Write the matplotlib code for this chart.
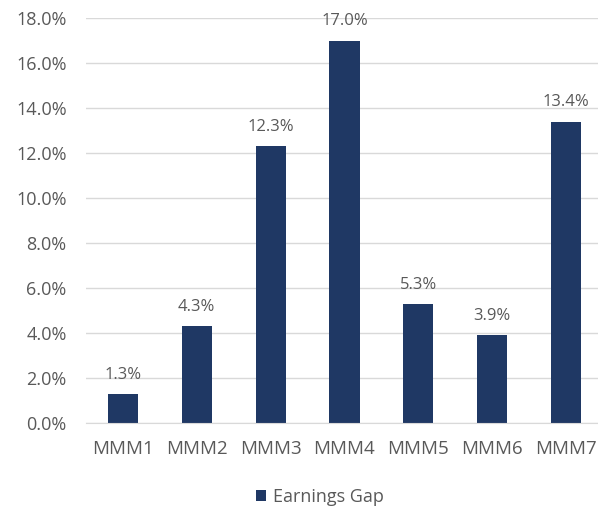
import matplotlib.pyplot as plt
from matplotlib.ticker import PercentFormatter

# Earnings gap per site
categories = ['MMM1', 'MMM2', 'MMM3', 'MMM4', 'MMM5', 'MMM6', 'MMM7']
earnings_gap = [1.3, 4.3, 12.3, 17.0, 5.3, 3.9, 13.4]
y_ticks = [0, 2, 4, 6, 8, 10, 12, 14, 16, 18]

bar_color = '#1F3864'
text_color = '#595959'

plt.rcParams['font.family'] = ['Open Sans', 'DejaVu Sans']

fig = plt.figure(figsize=(5.98, 5.07), dpi=100)
ax = fig.add_axes([86 / 598, 1 - 423 / 507, 517 / 598, 405 / 507])

bars = ax.bar(categories, earnings_gap, width=0.41, color=bar_color,
              label='Earnings Gap', zorder=3)
for rect, val in zip(bars, earnings_gap):
    ax.annotate(f'{val:.1f}%', (rect.get_x() + rect.get_width() / 2, val),
                xytext=(0, 8), textcoords='offset points', ha='center',
                va='bottom', fontsize=12, color=text_color)

ax.set_xlim(-0.5, len(categories) - 0.5)
ax.set_ylim(0, 18)
ax.set_yticks(y_ticks)
ax.yaxis.set_major_formatter(PercentFormatter(decimals=1))
ax.grid(axis='y', color='#D9D9D9', linewidth=1, zorder=0)
for side in ['top', 'right', 'left']:
    ax.spines[side].set_visible(False)
ax.spines['bottom'].set_color('#D9D9D9')
ax.spines['bottom'].set_zorder(4)
ax.tick_params(axis='y', length=0, pad=14, labelsize=13, labelcolor=text_color)
ax.tick_params(axis='x', length=0, pad=12, labelsize=13.5, labelcolor=text_color)

fig.legend(loc='center', bbox_to_anchor=(320 / 598, 1 - 497 / 507),
           frameon=False, fontsize=13, labelcolor=text_color,
           handlelength=0.55, handleheight=0.55, handletextpad=0.35)

fig.savefig('out.png', dpi=100)
